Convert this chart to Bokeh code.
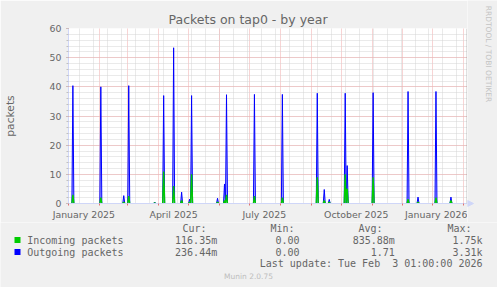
import numpy as np
from bokeh.plotting import figure
from bokeh.layouts import column, row
from bokeh.models import FixedTicker, Span, Range1d
from bokeh.core.properties import value
from bokeh.embed import file_html
from bokeh.resources import INLINE

# ---------------- data (day index: 0 = 2025-01-01) ----------------
n_days = 399
spike_days    = [4, 32, 55, 60, 86, 95, 105, 113, 121, 123, 149, 156, 158, 186, 214, 249, 256, 261, 277, 279, 305, 340, 350, 368, 383]
outgoing_vals = [40.4, 40.0, 2.7, 40.4, 0.5, 37.0, 53.4, 3.9, 1.5, 37.0, 1.8, 6.7, 37.3, 37.4, 37.4, 37.8, 4.8, 1.4, 37.8, 13.0, 38.0, 38.4, 2.2, 38.4, 2.2]
incoming_vals = [3.0, 2.0, 0.5, 2.5, 0.2, 11.0, 6.0, 1.0, 0.5, 10.0, 0.5, 1.0, 3.0, 2.5, 2.0, 9.0, 1.0, 0.5, 10.0, 5.0, 9.0, 1.5, 0.5, 2.0, 1.0]

y_ticks = [0, 10, 20, 30, 40, 50, 60]
month_starts = [0, 31, 59, 90, 120, 151, 181, 212, 243, 273, 304, 334, 365, 396]
label_days = [15, 105, 196, 288, 380]
label_texts = ["January 2025", "April 2025", "July 2025", "October 2025", "January 2026"]

series_names = ["Incoming packets", "Outgoing packets"]
series_colors = ["#00cc00", "#0000ff"]
cur_vals = ["116.35m", "236.44m"]
min_vals = ["0.00", "0.00"]
avg_vals = ["835.88m", "1.71"]
max_vals = ["1.75k", "3.31k"]
title_text = "Packets on tap0 - by year"
y_label = "packets"
last_update = "Last update: Tue Feb\u00a0\u00a03 01:00:00 2026"
footer = "Munin 2.0.75"
watermark = "RRDTOOL / TOBI OETIKER"

# ---------------- series ----------------
days = np.arange(n_days + 1)
outgoing = np.zeros(len(days))
incoming = np.zeros(len(days))
outgoing[spike_days] = outgoing_vals
incoming[spike_days] = incoming_vals
# incoming drawn only around its spikes (zero stretches lie under the outgoing line)
near = np.zeros(len(days), dtype=bool)
for d in spike_days:
    near[max(d - 1, 0):d + 2] = True
incoming_vis = np.where(near, incoming, np.nan)

# ---------------- geometry ----------------
W, H = 497, 287
FL, FR, FT, FB = 67, 467, 28, 203
TOP_H = 222
X0, X1 = -0.4, 399.6
Y0, Y1 = 0, 60
BG = "#f0f0f0"
FONT_COL = "#666666"
AXIS_COL = "#CFD6F8"
MONO = "DejaVu Sans Mono"

p = figure(width=FR, height=TOP_H, x_range=(X0, X1), y_range=(Y0, Y1),
           output_backend="svg", toolbar_location=None,
           min_border_left=FL, min_border_right=0,
           min_border_top=FT, min_border_bottom=TOP_H - FB,
           background_fill_color="#ffffff", border_fill_color=BG,
           outline_line_color=None)

# title
p.title.text = title_text
p.title.align = "left"
p.title.offset = 100
p.title.standoff = 3
p.title.text_font = "DejaVu Sans"
p.title.text_font_size = "12.5px"
p.title.text_font_style = "normal"
p.title.text_color = FONT_COL

# grids
p.xgrid.ticker = FixedTicker(ticks=month_starts, minor_ticks=list(range(11, n_days + 1, 14)))
p.ygrid.ticker = FixedTicker(ticks=y_ticks, minor_ticks=list(range(0, 61, 2)))
for g in (p.xgrid, p.ygrid):
    g.grid_line_color = "#f0a8a8"
    g.grid_line_dash = "1 1"
    g.grid_line_width = 1
    g.minor_grid_line_color = "#d4d4d4"
    g.minor_grid_line_dash = "1 1"

# x axis
p.xaxis.ticker = FixedTicker(ticks=label_days, minor_ticks=month_starts)
p.xaxis.major_label_overrides = {d: t for d, t in zip(label_days, label_texts)}
p.xaxis.major_tick_out = 0
p.xaxis.major_tick_in = 0
p.xaxis.minor_tick_out = 2
p.xaxis.minor_tick_in = 0
p.xaxis.minor_tick_line_color = "#e07070"
p.xaxis.major_label_standoff = 3

# y axis
p.yaxis.ticker = FixedTicker(ticks=y_ticks, minor_ticks=list(range(0, 61, 2)))
p.yaxis.major_tick_out = 2
p.yaxis.major_tick_in = 0
p.yaxis.minor_tick_out = 2
p.yaxis.minor_tick_in = 0
p.yaxis.major_tick_line_color = "#e07070"
p.yaxis.minor_tick_line_color = "#c0c0c0"
p.yaxis.major_label_standoff = 5
p.yaxis.axis_label = y_label
p.yaxis.axis_label_standoff = 30
p.yaxis.axis_label_text_font = "DejaVu Sans"
p.yaxis.axis_label_text_font_size = "10.7px"
p.yaxis.axis_label_text_font_style = "normal"
p.yaxis.axis_label_text_color = FONT_COL

for ax in (p.xaxis, p.yaxis):
    ax.axis_line_color = AXIS_COL
    ax.major_label_text_font = "DejaVu Sans"
    ax.major_label_text_font_size = "9.4px"
    ax.major_label_text_color = FONT_COL

# data
p.varea(x=days, y1=0, y2=outgoing, fill_color="#0000ff", fill_alpha=0.3)
p.line(days, outgoing, line_color=series_colors[1], line_width=1)
p.line(days, incoming_vis, line_color=series_colors[0], line_width=1.4)

# right border line
p.add_layout(Span(location=X1 - 0.3, dimension="height", line_color="#9a9a9a", line_width=1))

# ---------------- side strip (watermark + axis arrow) ----------------
side = figure(width=W - FR, height=TOP_H, x_range=Range1d(FR, W), y_range=Range1d(0, TOP_H),
              title=None, output_backend="svg", toolbar_location=None,
              min_border=0, x_axis_location=None, y_axis_location=None,
              background_fill_color=BG, border_fill_color=BG, outline_line_color=None)
side.xgrid.visible = False
side.ygrid.visible = False

try:
    # keep this strip's frame over its whole canvas (no alignment with the main frame)
    side.frame_align = False
    def sy(py):
        return TOP_H - py
    wm_y, wm_align = sy(53.5), "center"
except Exception:
    # frame is aligned to the main plot's top edge (canvas y 28 .. 222)
    def sy(py):
        return TOP_H - (py - FT) * TOP_H / (TOP_H - FT)
    wm_y, wm_align = sy(29), "left"

side.text(x=[487.5], y=[wm_y], text=[watermark], angle=-np.pi / 2,
          text_font=value("DejaVu Sans"), text_font_size="7.5px", text_color="#c4c4c4",
          text_align=wm_align, text_baseline="middle")
side.patch(x=[467, 473, 467], y=[sy(200), sy(203), sy(206)],
           fill_color=AXIS_COL, line_color=AXIS_COL)

# ---------------- legend strip; x = canvas px, y = H - canvas px ----------------
LEG_H = H - TOP_H
leg = figure(width=W, height=LEG_H, x_range=Range1d(0, W), y_range=Range1d(0, LEG_H),
             title=None, output_backend="svg", toolbar_location=None,
             min_border=0, x_axis_location=None, y_axis_location=None,
             background_fill_color=BG, border_fill_color=BG, outline_line_color=None)
leg.xgrid.visible = False
leg.ygrid.visible = False

def t(x, y, text, size="10px", font=MONO, align="left", color=FONT_COL):
    leg.text(x=[x], y=[H - y], text=[text], text_font=value(font), text_font_size=size,
             text_color=color, text_align=align, text_baseline="middle")

for txt, px in zip(["Cur:", "Min:", "Avg:", "Max:"], [182, 270, 358, 447]):
    t(px, 228, txt)

rows_y = [239.5, 251.5]
for i in range(2):
    ry = rows_y[i]
    leg.quad(left=[14], right=[20], top=[H - (ry - 3)], bottom=[H - (ry + 3)],
             fill_color=series_colors[i], line_color=None)
    t(26.7, ry, series_names[i])
    t(216.7, ry, cur_vals[i], align="right")
    t(299, ry, min_vals[i], align="right")
    t(394.3, ry, avg_vals[i], align="right")
    t(482, ry, max_vals[i], align="right")

t(482, 263, last_update, align="right")
t(248, 276, footer, size="7.5px", font="DejaVu Sans", align="center", color="#bdbdbd")

layout = column(row(p, side, spacing=0), leg, spacing=0)
open("out.html", "w").write(file_html(layout, INLINE))
